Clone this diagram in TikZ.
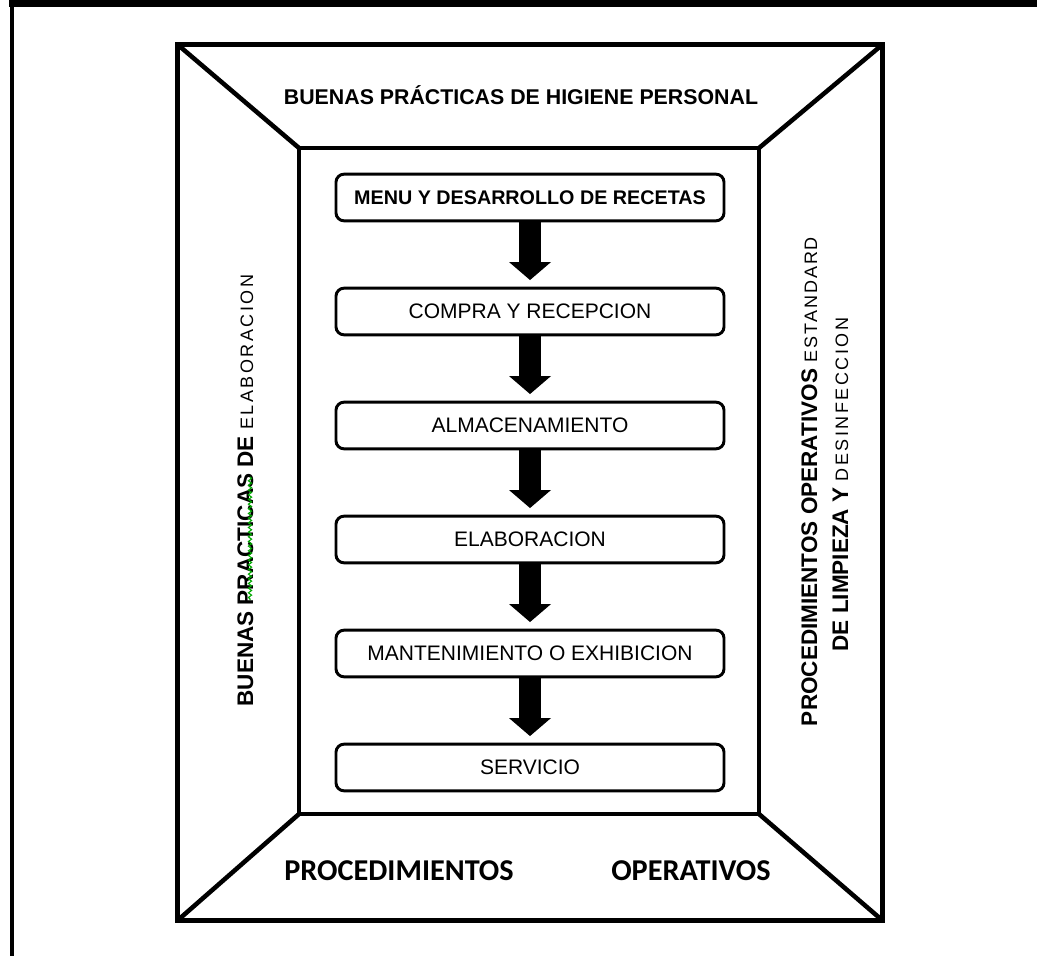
\documentclass[tikz,border=0pt]{standalone}
\usepackage{fontspec}
\setmainfont{Liberation Sans}
\newfontfamily\calibrifont{Carlito}
\usetikzlibrary{arrows.meta,decorations.pathmorphing}

% fonts for the rotated side captions
\newcommand\sidebf{\fontsize{16.9}{20}\selectfont\bfseries}
\newcommand\sidelt[2]{{\fontsize{13.5}{16}\selectfont\addfontfeatures{LetterSpace=#1}#2}}

\begin{document}
\begin{tikzpicture}[x=0.75pt, y=-0.75pt,
  frameline/.style={line width=3.4pt, line join=miter},
  stage/.style={draw, line width=2.2pt, rounded corners=6pt,
    minimum width=291pt, minimum height=35pt, inner sep=0pt,
    font=\fontsize{15.75}{18}\selectfont},
  flow/.style={line width=16.5pt,
    -{Triangle[width=31.5pt,length=13.5pt,line width=0pt]}, shorten >=5pt},
  caption/.style={anchor=base, inner sep=0pt}]

\useasboundingbox (0,0) rectangle (1037,956);

% page rules: heavy top rule and left rule
\fill (9,0) rectangle (1037,7);
\fill (9.5,0) rectangle (14,956);

% picture-frame: outer square, inner panel and the corner bevels
\coordinate (O1) at (177.5,44.5);
\coordinate (O2) at (882.5,44.5);
\coordinate (O3) at (882.5,920.5);
\coordinate (O4) at (177.5,920.5);
\coordinate (I1) at (299,148);
\coordinate (I2) at (759,148);
\coordinate (I3) at (759,814);
\coordinate (I4) at (299,814);
\draw[frameline] (O1) rectangle (O3);
\draw[frameline] (I1) rectangle (I3);
\draw[frameline] (O1) -- (I1) (O2) -- (I2) (O3) -- (I3) (O4) -- (I4);

% top band
\node[caption, font=\fontsize{16}{19}\selectfont\bfseries] (higiene) at (521,104)
  {BUENAS PRÁCTICAS DE HIGIENE PERSONAL};

% left band
\node[caption, rotate=90] (elabside) at (253,490.5)
  {{\sidebf BUENAS PRACTICAS DE }\sidelt{14}{ELABORACION}};
\draw[green!65!black, line width=0.8pt, decorate,
  decoration={snake, amplitude=1.2pt, segment length=3.5pt}] (250,477) -- (250,600);

% right band
\node[caption, rotate=90] (poes1) at (817,481.5)
  {{\sidebf PROCEDIMIENTOS OPERATIVOS }\sidelt{11}{ESTANDARD}};
\node[caption, rotate=90] (poes2) at (848,484.5)
  {{\sidebf DE LIMPIEZA Y }\sidelt{14}{DESINFECCION}};

% bottom band
\node[caption, font=\fontsize{22.7}{27}\calibrifont\bfseries] (proc) at (399,880)
  {PROCEDIMIENTOS};
\node[caption, font=\fontsize{22.7}{27}\calibrifont\bfseries] (oper) at (691,880)
  {OPERATIVOS};

% process stages
\node[stage, font=\fontsize{14.8}{18}\selectfont\bfseries] (menu) at (530,197.5)
  {MENU Y DESARROLLO DE RECETAS};
\node[stage] (compra) at (530,311.5) {COMPRA Y RECEPCION};
\node[stage] (almac) at (530,425.5) {ALMACENAMIENTO};
\node[stage] (elab) at (530,539.5) {ELABORACION};
\node[stage] (mant) at (530,653.5) {MANTENIMIENTO O EXHIBICION};
\node[stage] (serv) at (530,767.5) {SERVICIO};

% flow arrows
\draw[flow] (menu.south) -- (compra.north);
\draw[flow] (compra.south) -- (almac.north);
\draw[flow] (almac.south) -- (elab.north);
\draw[flow] (elab.south) -- (mant.north);
\draw[flow] (mant.south) -- (serv.north);

\end{tikzpicture}
\end{document}
